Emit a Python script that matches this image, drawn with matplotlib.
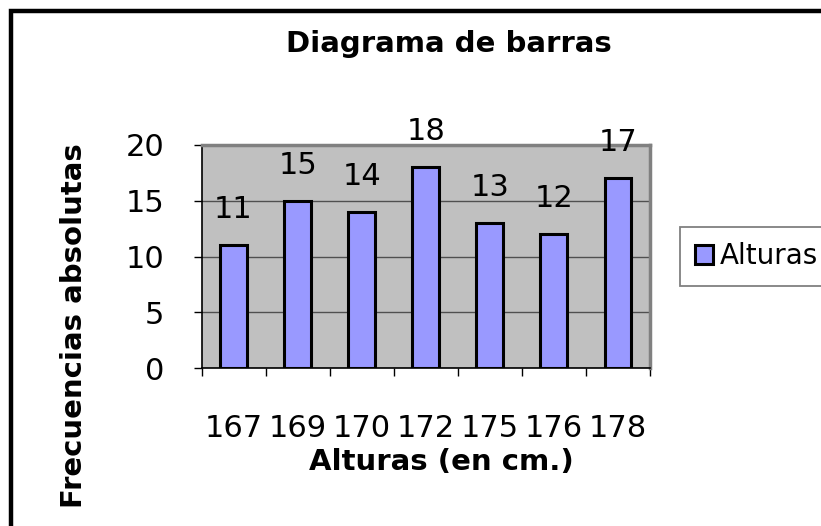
import matplotlib
matplotlib.use("Agg")
import matplotlib.pyplot as plt
from matplotlib.patches import Rectangle
import numpy as np

# datos del diagrama
alturas = ["167", "169", "170", "172", "175", "176", "178"]
frecuencias = [11, 15, 14, 18, 13, 12, 17]
yticks = [0, 5, 10, 15, 20]

plt.rcParams["font.family"] = "DejaVu Sans"

W, H = 821, 526
fig = plt.figure(figsize=(W / 100, H / 100), dpi=100)
fig.patch.set_facecolor("white")

# borde exterior del grafico (cortado a derecha y abajo)
fig.patches.append(Rectangle((10.5 / W, -0.2), 1.5, 1 - 10.5 / H + 0.2,
                             transform=fig.transFigure, fill=False,
                             edgecolor="black", linewidth=3.2, zorder=0))

ax = fig.add_axes([201.5 / W, 1 - 368 / H, 448.5 / W, 223 / H])
ax.set_facecolor("#c0c0c0")

x = np.arange(len(alturas))
bars = ax.bar(x, frecuencias, width=0.42, color="#9999ff",
              edgecolor="black", linewidth=2.2, label="Alturas", zorder=3)

for xi, v in zip(x, frecuencias):
    ax.annotate(str(v), (xi, v), xytext=(0, 19.5), textcoords="offset points",
                ha="center", va="baseline", fontsize=22, color="black",
                annotation_clip=False, zorder=4)

ax.set_xlim(-0.5, len(alturas) - 0.5)
ax.set_ylim(0, 20)
ax.set_yticks(yticks)
ax.set_xticks(x)
ax.set_xticklabels(alturas)
ax.set_xticks(np.arange(len(alturas) + 1) - 0.5, minor=True)

ax.tick_params(axis="x", which="major", length=0, pad=33, labelsize=22)
ax.tick_params(axis="x", which="minor", length=6, width=1, direction="out")
ax.tick_params(axis="y", length=6, width=1, direction="out", pad=21, labelsize=22)

ax.yaxis.grid(True, color="#505050", linewidth=1, zorder=1)
ax.set_axisbelow(True)

for side in ("left", "bottom"):
    ax.spines[side].set_color("black")
    ax.spines[side].set_linewidth(1.2)
for side in ("top", "right"):
    ax.spines[side].set_color("#808080")
    ax.spines[side].set_linewidth(2.5)

ax.set_title("Diagrama de barras", fontsize=21, fontweight="bold",
             x=(448.5 - 201.5) / 448.5, y=(368 - 60) / 223, va="baseline")
ax.set_xlabel("Alturas (en cm.)", fontsize=21, fontweight="bold")
ax.xaxis.set_label_coords((441.5 - 201.5) / 448.5, (368 - 448) / 223)
ax.set_ylabel("Frecuencias absolutas", fontsize=21, fontweight="bold")
ax.yaxis.set_label_coords((88 - 201.5) / 448.5, (368 - 326) / 223)

leg = fig.legend(handles=[bars], labels=["Alturas"], loc="upper left",
                 bbox_to_anchor=(680 / W, 1 - 227 / H), fontsize=20,
                 frameon=True, fancybox=False, framealpha=1, edgecolor="#808080",
                 handlelength=0.65, handleheight=0.65, handletextpad=0.25,
                 borderpad=0.55, borderaxespad=0)
leg.get_frame().set_linewidth(1.3)

fig.savefig("out.png", dpi=100)
